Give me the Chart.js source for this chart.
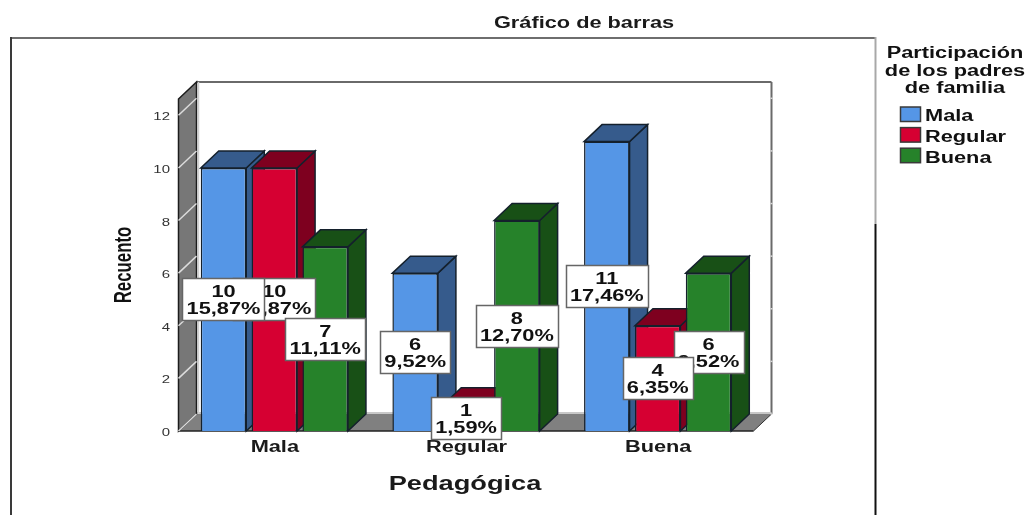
<!DOCTYPE html>
<html><head><meta charset="utf-8">
<style>html,body{margin:0;padding:0;background:#fff}#w{width:1025px;height:515px;position:relative}</style>
<script src="https://cdn.jsdelivr.net/npm/chart.js@4"></script>
</head><body><div id="w"><canvas id="c" width="1025" height="515"></canvas></div>
<script>
const categories = ['Mala', 'Regular', 'Buena'];
const seriesNames = ['Mala', 'Regular', 'Buena'];
const valuesMala = [10, 6, 11];
const valuesRegular = [10, 1, 4];
const valuesBuena = [7, 8, 6];
const percentMala = ['15,87%', '9,52%', '17,46%'];
const percentRegular = ['15,87%', '1,59%', '6,35%'];
const percentBuena = ['11,11%', '12,70%', '9,52%'];
const yTicks = [0, 2, 4, 6, 8, 10, 12];
const labelOrder = [[1,0],[0,0],[2,0],[0,1],[1,1],[2,1],[0,2],[2,2],[1,2]]; // [series, category]
const frontColors = ['#5596e6', '#d60032', '#26822a'];
const shadeColors = ['#365b8c', '#7e001f', '#185016'];
const chartTitle = 'Gráfico de barras';
const legendTitle = ['Participación', 'de los padres', 'de familia'];
const xTitle = 'Pedagógica';
const yTitle = 'Recuento';
const DX = 18, DY = 17, SX = 1.36, SANS = '"Liberation Sans", Arial, sans-serif';
const percents = [percentMala, percentRegular, percentBuena];

function text(ctx, s, x, y, font, color, align, sx) {
  ctx.save();
  ctx.font = font + ' ' + SANS;
  ctx.fillStyle = color;
  ctx.textBaseline = 'middle';
  ctx.textAlign = align;
  ctx.translate(x, y);
  ctx.scale(sx === undefined ? SX : sx, 1);
  ctx.fillText(s, 0, 0);
  ctx.restore();
}
function poly(ctx, pts, fill, stroke, lw) {
  ctx.beginPath();
  pts.forEach((p, i) => i ? ctx.lineTo(p[0], p[1]) : ctx.moveTo(p[0], p[1]));
  ctx.closePath();
  if (fill) { ctx.fillStyle = fill; ctx.fill(); }
  if (stroke) { ctx.strokeStyle = stroke; ctx.lineWidth = lw || 1; ctx.stroke(); }
}
function seg(ctx, x1, y1, x2, y2, color, lw) {
  ctx.beginPath(); ctx.moveTo(x1, y1); ctx.lineTo(x2, y2);
  ctx.strokeStyle = color; ctx.lineWidth = lw; ctx.stroke();
}

const box3d = {
  id: 'box3d',
  beforeDraw(chart) {
    const ctx = chart.ctx, a = chart.chartArea, ys = chart.scales.y;
    ctx.save();
    // outer frame
    seg(ctx, 11, 38, 875, 38, '#6e6e6e', 2);
    seg(ctx, 11, 37, 11, 515, '#3a3a3a', 2);
    seg(ctx, 875.5, 37, 875.5, 224, '#a8a8a8', 2);
    seg(ctx, 875.5, 224, 875.5, 515, '#111111', 2);
    // back wall
    seg(ctx, a.left + DX, a.top - DY, a.right + DX, a.top - DY, '#6a6a6a', 2);
    seg(ctx, a.right + DX, a.top - DY, a.right + DX, a.bottom - DY, '#6a6a6a', 2);
    // floor
    poly(ctx, [[a.left, a.bottom], [a.left + DX, a.bottom - DY], [a.right + DX, a.bottom - DY], [a.right, a.bottom]], '#808080');
    seg(ctx, a.left + DX, a.bottom - DY - 1, a.right + DX, a.bottom - DY - 1, '#c8c8c8', 2);
    seg(ctx, a.left, a.bottom, a.right, a.bottom, '#222222', 1.5);
    seg(ctx, a.right, a.bottom, a.right + DX, a.bottom - DY, '#333333', 1);
    // left wall
    poly(ctx, [[a.left, a.top], [a.left + DX, a.top - DY], [a.left + DX, a.bottom - DY], [a.left, a.bottom]], '#777777', '#1c1c1c', 1.5);
    seg(ctx, a.left + DX + 2, a.top - DY, a.left + DX + 2, a.bottom - DY, '#cfcfcf', 1.5);
    yTicks.forEach(v => {
      const y = ys.getPixelForValue(v);
      seg(ctx, a.left, y, a.left + DX, y - DY, '#dcdcdc', 1.5);
      seg(ctx, a.right + DX - 1, y - DY, a.right + DX + 1, y - DY, '#d8d8d8', 1.5);
    });
    ctx.restore();
  },
  beforeDatasetsDraw(chart) {
    const ctx = chart.ctx;
    // series drawn left to right so each bar overlaps the side of the previous one
    chart.data.datasets.forEach((ds, i) => {
      const meta = chart.getDatasetMeta(i);
      meta.data.forEach(el => {
        const w = el.width / 2, l = el.x - w, r = el.x + w, t = el.y, b = el.base;
        const edge = '#14202c';
        poly(ctx, [[r, t], [r + DX, t - DY], [r + DX, b - DY], [r, b]], shadeColors[i], edge, 1.5);
        poly(ctx, [[l, t], [l + DX, t - DY], [r + DX, t - DY], [r, t]], shadeColors[i], edge, 1.5);
      });
      meta.controller.draw();
    });
    return false;
  },
  afterDraw(chart) {
    const ctx = chart.ctx, xs = chart.scales.x, ys = chart.scales.y;
    // axis ticks
    yTicks.forEach(v => text(ctx, String(v), 170, ys.getPixelForValue(v) + 2, '11px', '#333333', 'right'));
    categories.forEach((c, i) => text(ctx, c, xs.getPixelForValue(i) + 0.5, 447.5, 'bold 16px', '#1a1a1a', 'center'));
    // axis titles
    text(ctx, xTitle, 465, 484, 'bold 20px', '#1a1a1a', 'center');
    ctx.save();
    ctx.translate(123.5, 265);
    ctx.rotate(-Math.PI / 2);
    text(ctx, yTitle, 0, 1, 'bold 24px', '#111111', 'center', 0.7);
    ctx.restore();
    // data labels
    labelOrder.forEach(([s, c]) => {
      const el = chart.getDatasetMeta(s).data[c];
      const v = chart.data.datasets[s].data[c], p = percents[s][c];
      const cy = (el.y + el.base) / 2;
      ctx.save();
      ctx.font = 'bold 16px ' + SANS;
      const w = Math.round(ctx.measureText(p).width * SX + 8.5), h = 42;
      const x0 = Math.round(el.x - w / 2) + 0.5, y0 = Math.round(cy - h / 2) + 0.5;
      ctx.fillStyle = '#ffffff'; ctx.fillRect(x0, y0, w, h);
      ctx.strokeStyle = '#666666'; ctx.lineWidth = 1.5; ctx.strokeRect(x0, y0, w, h);
      ctx.restore();
      text(ctx, String(v), el.x, y0 + 14, 'bold 16px', '#111111', 'center');
      text(ctx, p, el.x, y0 + 31, 'bold 16px', '#111111', 'center');
    });
    // chart title
    text(ctx, chartTitle, 584, 24, 'bold 16px', '#1a1a1a', 'center');
    // legend
    legendTitle.forEach((s, i) => text(ctx, s, 955, 54 + i * 17.5, 'bold 16px', '#111111', 'center'));
    seriesNames.forEach((s, i) => {
      const y = 107 + i * 20.6;
      ctx.save();
      ctx.fillStyle = frontColors[i]; ctx.strokeStyle = '#3a3a3a'; ctx.lineWidth = 1.5;
      ctx.fillRect(900.5, y, 20, 14.5); ctx.strokeRect(900.5, y, 20, 14.5);
      ctx.restore();
      text(ctx, s, 925, y + 10, 'bold 16px', '#111111', 'left');
    });
  }
};

new Chart(document.getElementById('c'), {
  type: 'bar',
  data: {
    labels: categories,
    datasets: [
      { label: seriesNames[0], data: valuesMala, backgroundColor: frontColors[0] },
      { label: seriesNames[1], data: valuesRegular, backgroundColor: frontColors[1] },
      { label: seriesNames[2], data: valuesBuena, backgroundColor: frontColors[2] }
    ]
  },
  options: {
    responsive: false,
    animation: false,
    layout: { padding: { left: 178.5, right: 271.5, top: 99, bottom: 84 } },
    datasets: { bar: { categoryPercentage: 0.796, barPercentage: 0.895, borderColor: '#14202c', borderWidth: 1.5 } },
    plugins: { legend: { display: false }, title: { display: false }, tooltip: { enabled: false } },
    scales: {
      x: { grid: { display: false, drawTicks: false }, border: { display: false }, ticks: { display: false, padding: 0 } },
      y: { min: 0, max: 12.62, grid: { display: false, drawTicks: false }, border: { display: false },
           ticks: { display: false, stepSize: 2, includeBounds: false, padding: 0 } }
    }
  },
  plugins: [box3d]
});
</script></body></html>
